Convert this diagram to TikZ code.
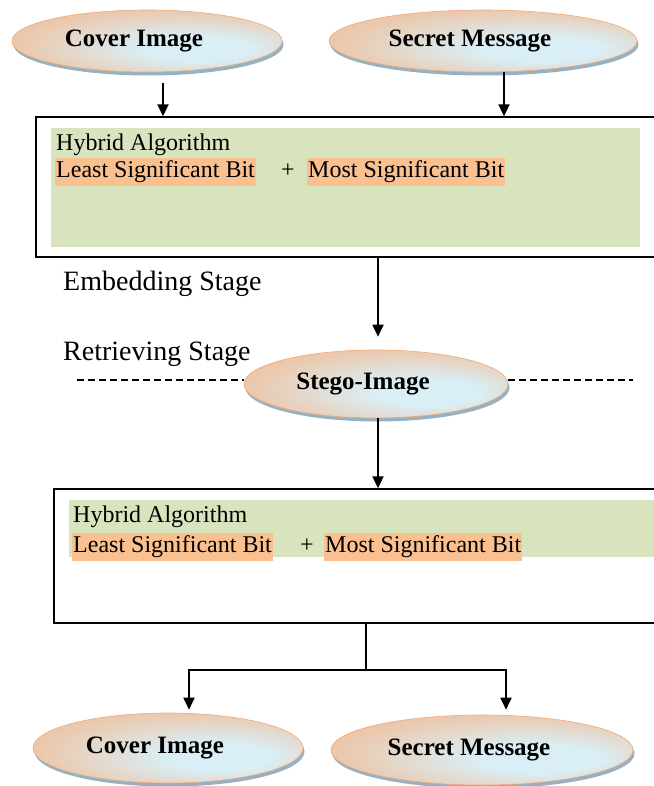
\documentclass[tikz,border=0pt]{standalone}
\usepackage{fontspec}
\setmainfont{Liberation Serif}
\usetikzlibrary{shapes.geometric,shadows,arrows.meta}
\definecolor{ellin}{RGB}{218,238,245}
\definecolor{ellout}{RGB}{245,178,130}
\definecolor{ellborder}{RGB}{240,170,120}
\definecolor{ellshadow}{RGB}{130,165,185}
\definecolor{boxgreen}{RGB}{215,228,189}
\definecolor{hlorange}{RGB}{250,192,144}
\pgfdeclareradialshading{ellshade}{\pgfpoint{12bp}{-8bp}}{%
  color(0bp)=(ellin); color(10bp)=(ellin); color(28bp)=(ellout!60!ellin); color(44bp)=(ellout); color(50bp)=(ellout)}
\newcommand{\elltext}[1]{#1\hspace*{26pt}}
\begin{document}
\begin{tikzpicture}[x=1pt,y=-1pt,
  ell/.style={ellipse, inner sep=0pt, draw=ellborder, line width=0.6pt,
    shading=ellshade,
    drop shadow={shadow xshift=1.5pt, shadow yshift=-3.5pt, fill=ellshadow, opacity=0.85},
    font=\fontsize{25}{30}\selectfont\bfseries},
  algbox/.style={draw=black, line width=1.3pt, fill=white, inner sep=0pt},
  greenbox/.style={fill=boxgreen, inner sep=0pt},
  body/.style={font=\fontsize{24}{28}\selectfont, inner sep=0pt, anchor=base west},
  hl/.style={body, fill=hlorange, text height=18pt, text depth=7pt, inner ysep=1.5pt, inner xsep=1pt},
  stage/.style={font=\fontsize{28}{33}\selectfont, inner sep=0pt, anchor=base west},
  arr/.style={line width=1.8pt, -{Triangle[length=12pt,width=11pt]}},
  conn/.style={line width=1.8pt},
  dashline/.style={line width=1.1pt, dash pattern=on 7pt off 4pt}
]
\useasboundingbox (0,0) rectangle (653,786);

% top algorithm box
\node[algbox, minimum width=632pt, minimum height=140pt] (box1) at (352,187) {};
\node[greenbox, minimum width=589pt, minimum height=119pt] (green1) at (345.5,187.5) {};
\node[body] (hyb1) at (56,151) {Hybrid Algorithm};
\node[hl] (lsb1) at (55,178) {Least Significant Bit};
\node[body] (plus1) at (281,178) {+};
\node[hl] (msb1) at (307,178) {Most Significant Bit};

% bottom algorithm box
\node[algbox, minimum width=616pt, minimum height=134pt] (box2) at (362,556) {};
\node[greenbox, minimum width=596pt, minimum height=57pt] (green2) at (367,528.5) {};
\node[body] (hyb2) at (73,522) {Hybrid Algorithm};
\node[hl] (lsb2) at (72,552) {Least Significant Bit};
\node[body] (plus2) at (300,552) {+};
\node[hl] (msb2) at (324,552) {Most Significant Bit};

% stage labels
\node[stage] (emb) at (63,290) {Embedding Stage};
\node[stage] (ret) at (63,360) {Retrieving Stage};

% ellipses
\node[ell, minimum width=270pt, minimum height=62pt] (topcover) at (147,41) {\elltext{Cover Image}};
\node[ell, minimum width=308pt, minimum height=62pt] (topsecret) at (483,41) {\elltext{Secret Message}};
\node[ell, minimum width=264pt, minimum height=68pt] (stego) at (376,384) {\elltext{Stego-Image}};
\node[ell, minimum width=270pt, minimum height=70pt] (botcover) at (168,748) {\elltext{Cover Image}};
\node[ell, minimum width=302pt, minimum height=70pt] (botsecret) at (482,750) {\elltext{Secret Message}};

% dashed separator
\coordinate (dl) at (77,380);
\coordinate (dr) at (633,380);
\draw[dashline] (dl) -- (dl -| stego.west);
\draw[dashline] (stego.east |- dr) -- (dr);

% connectors
\draw[arr] ([xshift=16pt,yshift=-11pt]topcover.south) -- ([xshift=16pt]topcover.south |- box1.north);
\draw[arr] ([xshift=21pt]topsecret.south) -- ([xshift=21pt]topsecret.south |- box1.north);
\draw[arr] ([xshift=2pt]stego.north |- box1.south) -- ([xshift=2pt,yshift=13pt]stego.north);
\draw[arr] ([xshift=2pt]stego.south) -- ([xshift=2pt]stego.south |- box2.north);
\coordinate (split) at (366,670);
\draw[conn] (split |- box2.south) -- (split);
\draw[arr] (split) -| ([xshift=21pt,yshift=3pt]botcover.north);
\draw[arr] (split) -| ([xshift=24pt,yshift=5pt]botsecret.north);
\end{tikzpicture}
\end{document}
